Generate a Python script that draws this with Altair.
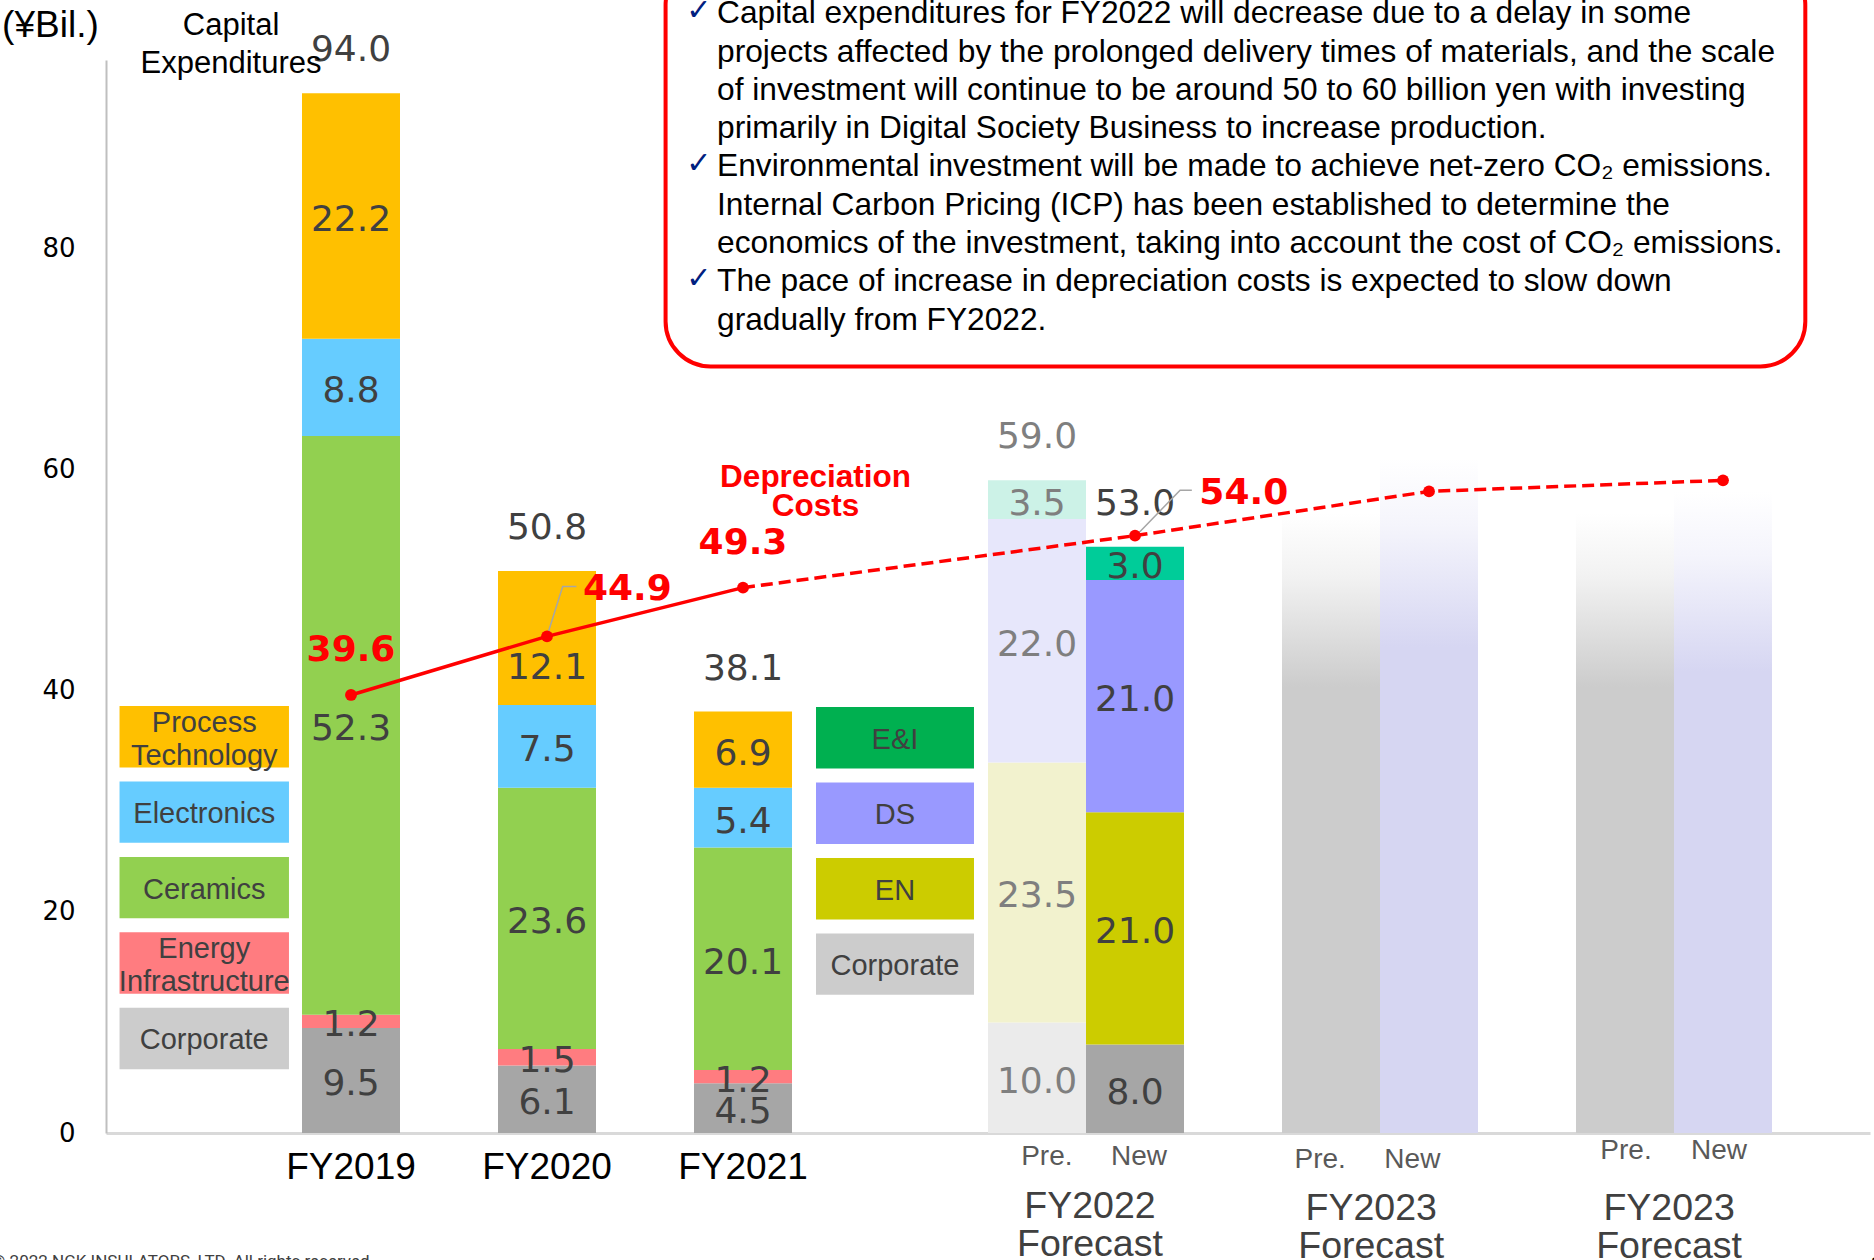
import altair as alt
import pandas as pd

# ---------------- data (¥ billion) ----------------
# Capital expenditures by segment, listed bottom -> top of each stack
old_segments = ["Corporate", "Energy Infrastructure", "Ceramics", "Electronics", "Process Technology"]
fy2019 = [9.5, 1.2, 52.3, 8.8, 22.2]
fy2020 = [6.1, 1.5, 23.6, 7.5, 12.1]
fy2021 = [4.5, 1.2, 20.1, 5.4, 6.9]

new_segments = ["Corporate", "EN", "DS", "E&I"]
fy2022_pre = [10.0, 23.5, 22.0, 3.5]
fy2022_new = [8.0, 21.0, 21.0, 3.0]

# Outlook bars without a segment breakdown
outlook_bars = ["FC2 Pre", "FC2 New", "FC3 Pre", "FC3 New"]
outlook_heights = [56.0, 61.0, 56.0, 58.0]

# Depreciation costs
dep_bars = ["FY2019", "FY2020", "FY2021", "FC1 New", "FC2 New", "FC3 New"]
dep_values = [39.6, 44.9, 49.3, 54.0, 58.0, 59.0]

# Box text
notes = [
    "Capital expenditures for FY2022 will decrease due to a delay in some",
    "projects affected by the prolonged delivery times of materials, and the scale",
    "of investment will continue to be around 50 to 60 billion yen with investing",
    "primarily in Digital Society Business to increase production.",
    "Environmental investment will be made to achieve net-zero CO\u2082 emissions.",
    "Internal Carbon Pricing (ICP) has been established to determine the",
    "economics of the investment, taking into account the cost of CO\u2082 emissions.",
    "The pace of increase in depreciation costs is expected to slow down",
    "gradually from FY2022.",
]
note_checks = [0, 4, 7]

# ---------------- layout ----------------
SLOT = {"FY2019": 2.5, "FY2020": 4.5, "FY2021": 6.5,
        "FC1 Pre": 9.5, "FC1 New": 10.5, "FC2 Pre": 12.5, "FC2 New": 13.5,
        "FC3 Pre": 15.5, "FC3 New": 16.5}

FILL = {
    ("old", "Corporate"): "#A6A6A6", ("old", "Energy Infrastructure"): "#FF7C80",
    ("old", "Ceramics"): "#92D050", ("old", "Electronics"): "#66CCFF",
    ("old", "Process Technology"): "#FFC000",
    ("pre", "Corporate"): "#EBEBEB", ("pre", "EN"): "#F2F2CE",
    ("pre", "DS"): "#E7E7FB", ("pre", "E&I"): "#CCF2E7",
    ("new", "Corporate"): "#A6A6A6", ("new", "EN"): "#CCCC00",
    ("new", "DS"): "#9999FF", ("new", "E&I"): "#00CC99",
}
TEXT_DARK = "#404040"
TEXT_FADED = "#7F7F7F"

rows = []
for bar, vals in [("FY2019", fy2019), ("FY2020", fy2020), ("FY2021", fy2021)]:
    for i, (seg, v) in enumerate(zip(old_segments, vals)):
        nudge = -2.35 if (bar == "FY2020" and seg == "Process Technology") else 0.0
        rows.append(dict(bar=bar, seg=seg, value=v, order=i, pos=SLOT[bar],
                         fill=FILL[("old", seg)], tcolor=TEXT_DARK, nudge=nudge))
for bar, kind, vals, tc in [("FC1 Pre", "pre", fy2022_pre, TEXT_FADED),
                            ("FC1 New", "new", fy2022_new, TEXT_DARK)]:
    for i, (seg, v) in enumerate(zip(new_segments, vals)):
        rows.append(dict(bar=bar, seg=seg, value=v, order=i, pos=SLOT[bar],
                         fill=FILL[(kind, seg)], tcolor=tc, nudge=0.0))
seg_df = pd.DataFrame(rows)

tot_df = (seg_df.groupby("bar", as_index=False)
          .agg(total=("value", "sum"), pos=("pos", "first"), tcolor=("tcolor", "first")))

out_df = pd.DataFrame({"bar": outlook_bars, "h": outlook_heights,
                       "pos": [SLOT[b] for b in outlook_bars]})
out_df["kind"] = out_df["bar"].str.endswith("Pre").map({True: "pre", False: "new"})

dep_df = pd.DataFrame({"bar": dep_bars, "value": dep_values,
                       "pos": [SLOT[b] for b in dep_bars]})

# ---------------- scales / axes ----------------
W, H = 1764, 1073
xs = alt.Scale(domain=[0, 18], nice=False, zero=False)
ys = alt.Scale(domain=[0, 97], nice=False, zero=False)
x_axis = alt.Axis(labels=False, ticks=False, grid=False, title=None,
                  domainColor="#D9D9D9", domainWidth=3)
y_axis = alt.Axis(values=[0, 20, 40, 60, 80], ticks=False, grid=False, title=None,
                  domainColor="#BFBFBF", domainWidth=2, labelFont="DejaVu Sans",
                  labelFontSize=26, labelColor="#000000", labelPadding=31)


def X(f):
    return alt.X(f, type="quantitative", scale=xs, axis=x_axis)


def Y(f):
    return alt.Y(f, type="quantitative", scale=ys, axis=y_axis)


# ---------------- faded outlook bars ----------------
def fade(color, rgb):
    return alt.LinearGradient(
        gradient="linear", x1=0, x2=0, y1=0, y2=1,
        stops=[alt.GradientStop(offset=0, color=f"rgba({rgb},0)"),
               alt.GradientStop(offset=0.1, color=f"rgba({rgb},0.25)"),
               alt.GradientStop(offset=0.28, color=color),
               alt.GradientStop(offset=1, color=color)])


out_base = alt.Chart(out_df).transform_calculate(
    xa="datum.pos - 0.5", xb="datum.pos + 0.5", z="0")
out_pre = out_base.transform_filter("datum.kind == 'pre'").mark_rect(
    fill=fade("#CCCCCC", "204,204,204")).encode(
    x=X("xa"), x2="xb", y=Y("z"), y2="h")
out_new = out_base.transform_filter("datum.kind == 'new'").mark_rect(
    fill=fade("#D6D6F2", "214,214,242")).encode(
    x=X("xa"), x2="xb", y=Y("z"), y2="h")

# ---------------- stacked bars ----------------
stack = alt.Chart(seg_df).transform_stack(
    stack="value", groupby=["bar"], as_=["y0", "y1"],
    sort=[alt.SortField("order", order="ascending")]
).transform_calculate(
    xa="datum.pos - 0.5", xb="datum.pos + 0.5",
    ym="(datum.y0 + datum.y1) / 2 + datum.nudge")

bars = stack.mark_rect().encode(
    x=X("xa"), x2="xb", y=Y("y0"), y2="y1",
    fill=alt.Fill("fill:N", scale=None))
seg_labels = stack.mark_text(font="DejaVu Sans", fontSize=36, baseline="middle", dy=4).encode(
    x=X("pos"), y=Y("ym"), text=alt.Text("value:Q", format=".1f"),
    color=alt.Color("tcolor:N", scale=None))
totals = alt.Chart(tot_df).mark_text(font="DejaVu Sans", fontSize=36,
                                     baseline="middle", dy=-43).encode(
    x=X("pos"), y=Y("total"), text=alt.Text("total:Q", format=".1f"),
    color=alt.Color("tcolor:N", scale=None))

# ---------------- segment key boxes ----------------
key_rows = []
left_keys = [("Process Technology", ["Process", "Technology"], "#FFC000"),
             ("Electronics", ["Electronics"], "#66CCFF"),
             ("Ceramics", ["Ceramics"], "#92D050"),
             ("Energy Infrastructure", ["Energy", "Infrastructure"], "#FF7C80"),
             ("Corporate", ["Corporate"], "#CCCCCC")]
right_keys = [("E&I", ["E&I"], "#00B050"), ("DS", ["DS"], "#9999FF"),
              ("EN", ["EN"], "#CCCC00"), ("Corporate", ["Corporate"], "#CCCCCC")]
key_text = []
for (xa, xb, top), keys in [((0.138, 1.867, 38.6), left_keys), ((7.245, 8.857, 38.5), right_keys)]:
    for i, (name, lines, col) in enumerate(keys):
        t = top - i * 6.82
        b = t - 5.55
        key_rows.append(dict(xa=xa, xb=xb, t=t, b=b, fill=col))
        mid = (t + b) / 2
        offs = [0.0] if len(lines) == 1 else [1.45, -1.55]
        for ln, o in zip(lines, offs):
            key_text.append(dict(x=(xa + xb) / 2, y=mid + o, label=ln))
keys_rect = alt.Chart(pd.DataFrame(key_rows)).mark_rect().encode(
    x=X("xa"), x2="xb", y=Y("b"), y2="t", fill=alt.Fill("fill:N", scale=None))
keys_label = alt.Chart(pd.DataFrame(key_text)).mark_text(
    font="Liberation Sans", fontSize=29, color=TEXT_DARK, baseline="middle", dy=2).encode(
    x=X("x"), y=Y("y"), text="label:N")

# ---------------- depreciation line ----------------
dep_solid = alt.Chart(dep_df.iloc[:3]).mark_line(color="#FF0000", strokeWidth=3.5).encode(
    x=X("pos"), y=Y("value"))
dep_dash = alt.Chart(dep_df.iloc[2:]).mark_line(
    color="#FF0000", strokeWidth=3.5, strokeDash=[12, 6]).encode(x=X("pos"), y=Y("value"))
dep_dots = alt.Chart(dep_df).mark_point(filled=True, size=140, color="#FF0000", opacity=1).encode(
    x=X("pos"), y=Y("value"))

dep_lab_pos = [(2.5, 43.8), (5.32, 49.4), (6.5, 53.5), (11.61, 58.05)]
dep_lab_df = pd.DataFrame({"x": [p[0] for p in dep_lab_pos], "y": [p[1] for p in dep_lab_pos],
                           "value": dep_values[:4]})
dep_labels = alt.Chart(dep_lab_df).mark_text(
    font="DejaVu Sans", fontSize=36, fontWeight="bold", color="#FF0000", baseline="middle", dy=2).encode(
    x=X("x"), y=Y("y"), text=alt.Text("value:Q", format=".1f"))

leader_df = pd.DataFrame({
    "grp": ["a", "a", "a", "b", "b", "b"],
    "o": [0, 1, 2, 0, 1, 2],
    "x": [4.5, 4.66, 4.8, 10.51, 10.96, 11.08],
    "y": [44.9, 49.4, 49.4, 54.0, 58.1, 58.1],
})
leaders = alt.Chart(leader_df).mark_line(color="#A6A6A6", strokeWidth=1.5).encode(
    x=X("x"), y=Y("y"), detail="grp:N", order="o:Q")

dep_title = alt.Chart(pd.DataFrame({"x": [7.24, 7.24], "y": [59.2, 56.6],
                                    "t": ["Depreciation", "Costs"]})).mark_text(
    font="Liberation Sans", fontSize=31.5, fontWeight="bold", color="#FF0000", baseline="middle").encode(
    x=X("x"), y=Y("y"), text="t:N")

# ---------------- headings / category labels ----------------
unit_lbl = alt.Chart(pd.DataFrame({"x": [-1.06], "y": [100.1], "t": ["(\u00a5Bil.)"]})).mark_text(
    font="Liberation Sans", fontSize=37, color="#000000", align="left", baseline="middle").encode(
    x=X("x"), y=Y("y"), text="t:N")
capex_lbl = alt.Chart(pd.DataFrame({"x": [1.276, 1.276], "y": [100.1, 96.65],
                                    "t": ["Capital", "Expenditures"]})).mark_text(
    font="Liberation Sans", fontSize=31, color="#000000", baseline="middle").encode(
    x=X("x"), y=Y("y"), text="t:N")

year_lbl = alt.Chart(pd.DataFrame({"x": [2.5, 4.5, 6.5], "y": [-3.16] * 3,
                                   "t": ["FY2019", "FY2020", "FY2021"]})).mark_text(
    font="Liberation Sans", fontSize=37, color="#000000", baseline="middle").encode(
    x=X("x"), y=Y("y"), text="t:N")
prenew_lbl = alt.Chart(pd.DataFrame({
    "x": [9.6, 10.54, 12.39, 13.33, 15.51, 16.46],
    "y": [-2.17, -2.17, -2.4, -2.4, -1.6, -1.6],
    "t": ["Pre.", "New", "Pre.", "New", "Pre.", "New"]})).mark_text(
    font="Liberation Sans", fontSize=28, color="#595959", baseline="middle").encode(
    x=X("x"), y=Y("y"), text="t:N")
fc_lbl = alt.Chart(pd.DataFrame({
    "x": [10.04, 10.04, 12.91, 12.91, 15.95, 15.95],
    "y": [-6.7, -10.16, -6.9, -10.3, -6.9, -10.3],
    "t": ["FY2022", "Forecast", "FY2023", "Forecast", "FY2023", "Forecast"]})).mark_text(
    font="Liberation Sans", fontSize=37.5, color=TEXT_DARK, baseline="middle").encode(
    x=X("x"), y=Y("y"), text="t:N")

footer = alt.Chart(pd.DataFrame({"x": [-1.163], "y": [-10.94],
                                 "t": ["\u00a9 2022 NGK INSULATORS, LTD. All rights reserved."]})).mark_text(
    font="Roboto", fontSize=17, color=TEXT_DARK, align="left", baseline="top").encode(
    x=X("x"), y=Y("y"), text="t:N")
page_no = alt.Chart(pd.DataFrame({"x": [18.0], "y": [-10.9], "t": ["1"]})).mark_text(
    font="Liberation Sans", fontSize=24, color="#000000", align="left", baseline="top").encode(
    x=X("x"), y=Y("y"), text="t:N")

# ---------------- note box ----------------
box = alt.Chart(pd.DataFrame({"xa": [5.71], "xb": [17.34], "b": [69.3], "t": [106.0]})).mark_rect(
    fill="white", stroke="#FF0000", strokeWidth=4, cornerRadius=45).encode(
    x=X("xa"), x2="xb", y=Y("b"), y2="t")
note_df = pd.DataFrame({"t": notes, "x": [6.235] * len(notes),
                        "y": [101.4 - i * 3.46 for i in range(len(notes))]})
note_text = alt.Chart(note_df).mark_text(
    font="Liberation Sans", fontSize=31.7, color="#000000", align="left", baseline="middle", dy=2).encode(
    x=X("x"), y=Y("y"), text="t:N")
check_df = pd.DataFrame({"x": [6.05] * len(note_checks),
                         "y": [101.4 - i * 3.46 for i in note_checks],
                         "t": ["\u2713"] * len(note_checks)})
note_checks_mk = alt.Chart(check_df).mark_text(
    font="DejaVu Sans", fontSize=30, color="#002080", baseline="middle").encode(
    x=X("x"), y=Y("y"), text="t:N")

chart = alt.layer(
    out_pre, out_new, bars, keys_rect, keys_label, seg_labels, totals,
    dep_solid, dep_dash, leaders, dep_dots, dep_labels, dep_title,
    unit_lbl, capex_lbl, year_lbl, prenew_lbl, fc_lbl, footer, page_no,
    box, note_text, note_checks_mk,
).properties(
    width=W, height=H,
    autosize=alt.AutoSizeParams(type="none"),
    padding={"left": 106, "top": 60, "right": 4, "bottom": 127},
    background="white",
).configure_view(stroke=None)

chart.save("out.html", embed_options={"renderer": "svg", "actions": False})
